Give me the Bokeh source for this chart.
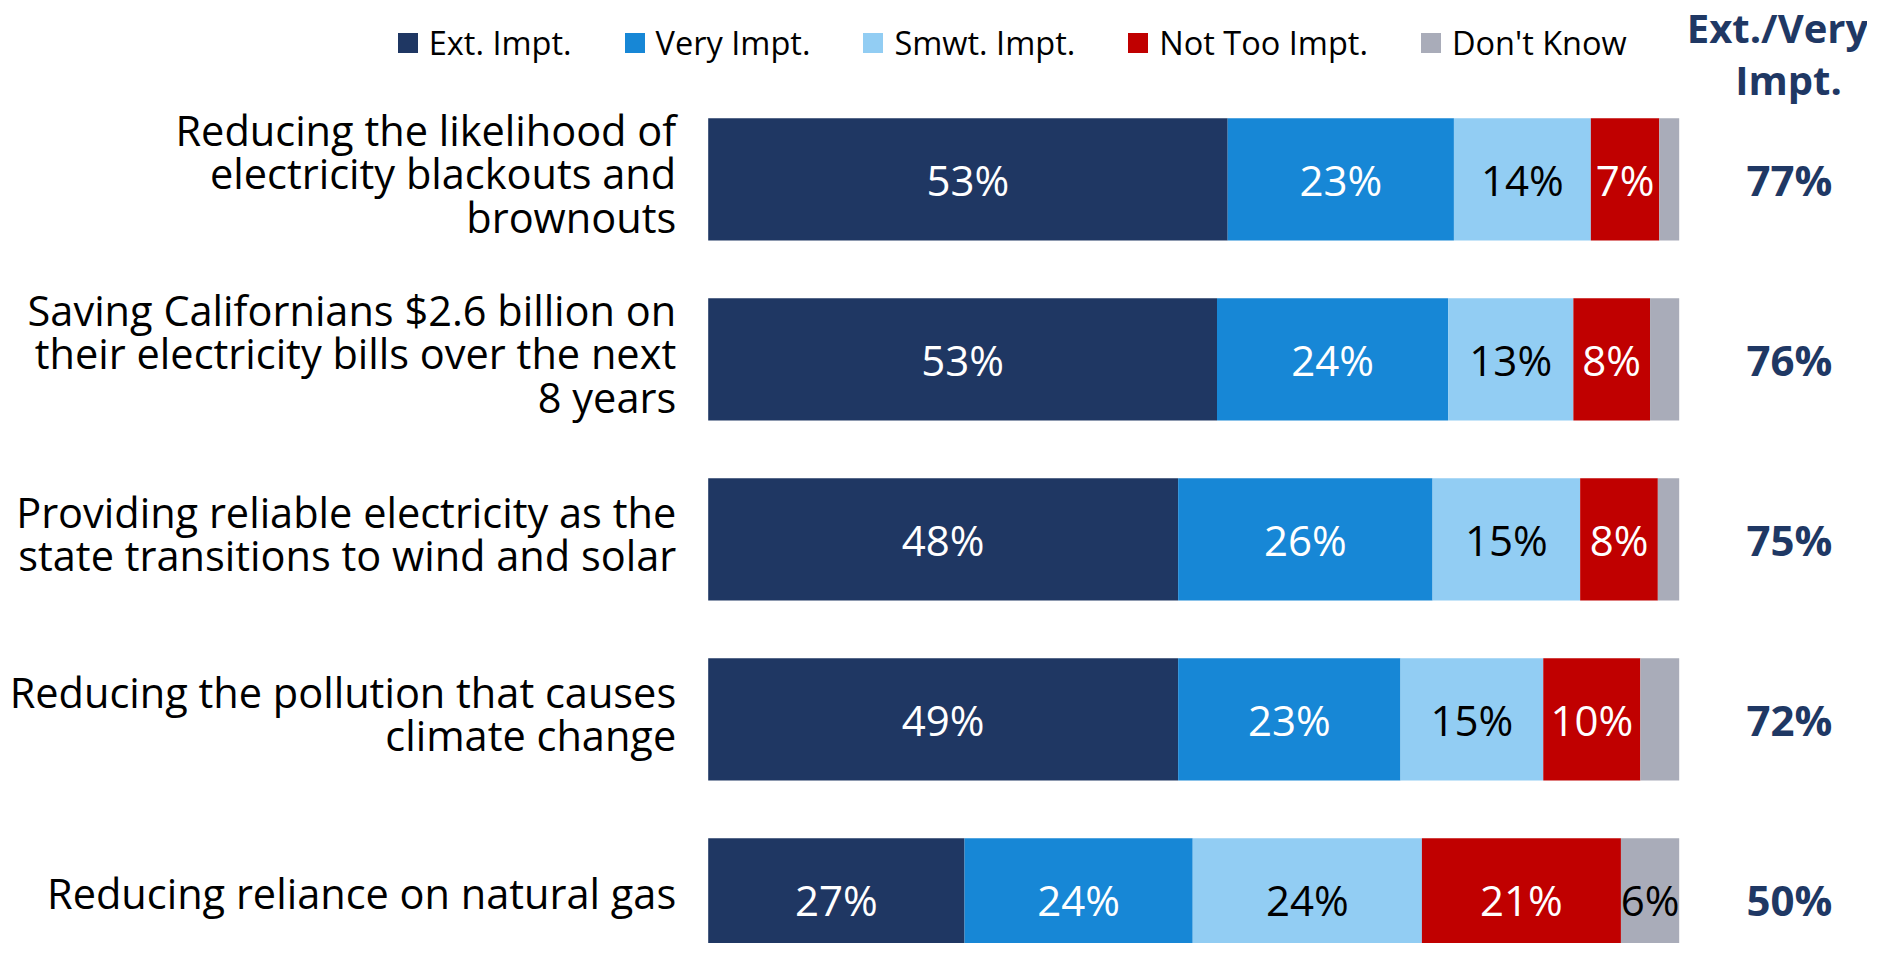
from bokeh.plotting import figure
from bokeh.models import ColumnDataSource, Range1d, Legend, LegendItem
from bokeh.core.properties import value
from bokeh.embed import file_html
from bokeh.resources import INLINE

# ---------------- data ----------------
categories = [
    "Reducing the likelihood of\nelectricity blackouts and\nbrownouts",
    "Saving Californians $2.6 billion on\ntheir electricity bills over the next\n8 years",
    "Providing reliable electricity as the\nstate transitions to wind and solar",
    "Reducing the pollution that causes\nclimate change",
    "Reducing reliance on natural gas",
]
series = ["Ext. Impt.", "Very Impt.", "Smwt. Impt.", "Not Too Impt.", "Don't Know"]

ext_impt = [53.5, 52.4, 48.4, 48.4, 26.4]
very_impt = [23.3, 23.8, 26.2, 22.9, 23.5]
smwt_impt = [14.1, 12.9, 15.2, 14.7, 23.6]
not_too_impt = [7.05, 7.9, 8.0, 10.0, 20.5]
dont_know = [2.05, 3.0, 2.2, 4.0, 6.0]

ext_labels = [53, 53, 48, 49, 27]
very_labels = [23, 24, 26, 23, 24]
smwt_labels = [14, 13, 15, 15, 24]
not_too_labels = [7, 8, 8, 10, 21]
dont_know_labels = [None, None, None, None, 6]

ext_very_total = [77, 76, 75, 72, 50]
header = ["Ext./Very", "Impt."]

# ---------------- styles ----------------
colors = ["#1F3763", "#1787D6", "#92CDF3", "#C00000", "#A9ACB9"]
label_colors = ["white", "white", "black", "white", "black"]
NAVY = "#1F3864"
FONT = "Open Sans"

W, H = 1867, 943
PX_PER_UNIT = 9.71
X0 = 707.7            # screen px of 0 %
ROW0 = 178.85         # screen px of first row centre
ROW_STEP = 180.0

x_range = Range1d(-X0 / PX_PER_UNIT, (W - X0) / PX_PER_UNIT)
y_range = Range1d((H - ROW0) / ROW_STEP, -ROW0 / ROW_STEP)

p = figure(width=W, height=H, x_range=x_range, y_range=y_range,
           x_axis_type=None, y_axis_type=None, toolbar_location=None,
           output_backend="svg", min_border=0, outline_line_color=None)
p.grid.visible = False
p.background_fill_color = "white"

ys = list(range(len(categories)))
keys = ["ext", "very", "smwt", "nottoo", "dk"]
vals = [ext_impt, very_impt, smwt_impt, not_too_impt, dont_know]
labs = [ext_labels, very_labels, smwt_labels, not_too_labels, dont_know_labels]

src = ColumnDataSource(dict(y=ys, **{k: v for k, v in zip(keys, vals)}))
renderers = p.hbar_stack(keys, y="y", height=0.679, color=colors,
                         line_color=None, source=src)

# segment labels
cum = [0.0] * len(ys)
for vlist, llist, col in zip(vals, labs, label_colors):
    xs, yy, tt = [], [], []
    for i, (v, l) in enumerate(zip(vlist, llist)):
        if l is not None:
            xs.append(cum[i] + v / 2.0)
            yy.append(ys[i])
            tt.append(f"{l}%")
        cum[i] += v
    p.text(x=xs, y=yy, text=tt, text_align="center", text_baseline="middle",
           text_color=col, text_font=value(FONT), text_font_size="42px")

# category labels
p.text(x=[0] * len(ys), y=ys, text=categories, x_offset=-32, y_offset=-6,
       text_align="right", text_baseline="middle", text_color="black",
       text_font=value(FONT), text_font_size="41.5px", text_line_height=0.78)

# right column
XR = (1789 - X0) / PX_PER_UNIT
p.text(x=[XR] * len(ys), y=ys, text=[f"{t}%" for t in ext_very_total],
       text_align="center", text_baseline="middle", text_color=NAVY,
       text_font=value(FONT), text_font_size="42px", text_font_style="bold")
hy = [(27 - ROW0) / ROW_STEP, (79 - ROW0) / ROW_STEP]
p.text(x=[(1777 - X0) / PX_PER_UNIT, (1788 - X0) / PX_PER_UNIT], y=hy, text=header,
       text_align="center", text_baseline="middle", text_color=NAVY,
       text_font=value(FONT), text_font_size="40px", text_font_style="bold")

legend = Legend(items=[LegendItem(label=s, renderers=[r]) for s, r in zip(series, renderers)],
                orientation="horizontal", location=(394.8, 878.5),
                glyph_width=25, glyph_height=25, label_standoff=9, spacing=50,
                padding=0, margin=0, border_line_color=None, background_fill_alpha=0,
                label_text_font=FONT, label_text_font_size="32.5px",
                label_text_color="black", label_height=25)
p.add_layout(legend)

open("out.html", "w").write(file_html(p, INLINE))
